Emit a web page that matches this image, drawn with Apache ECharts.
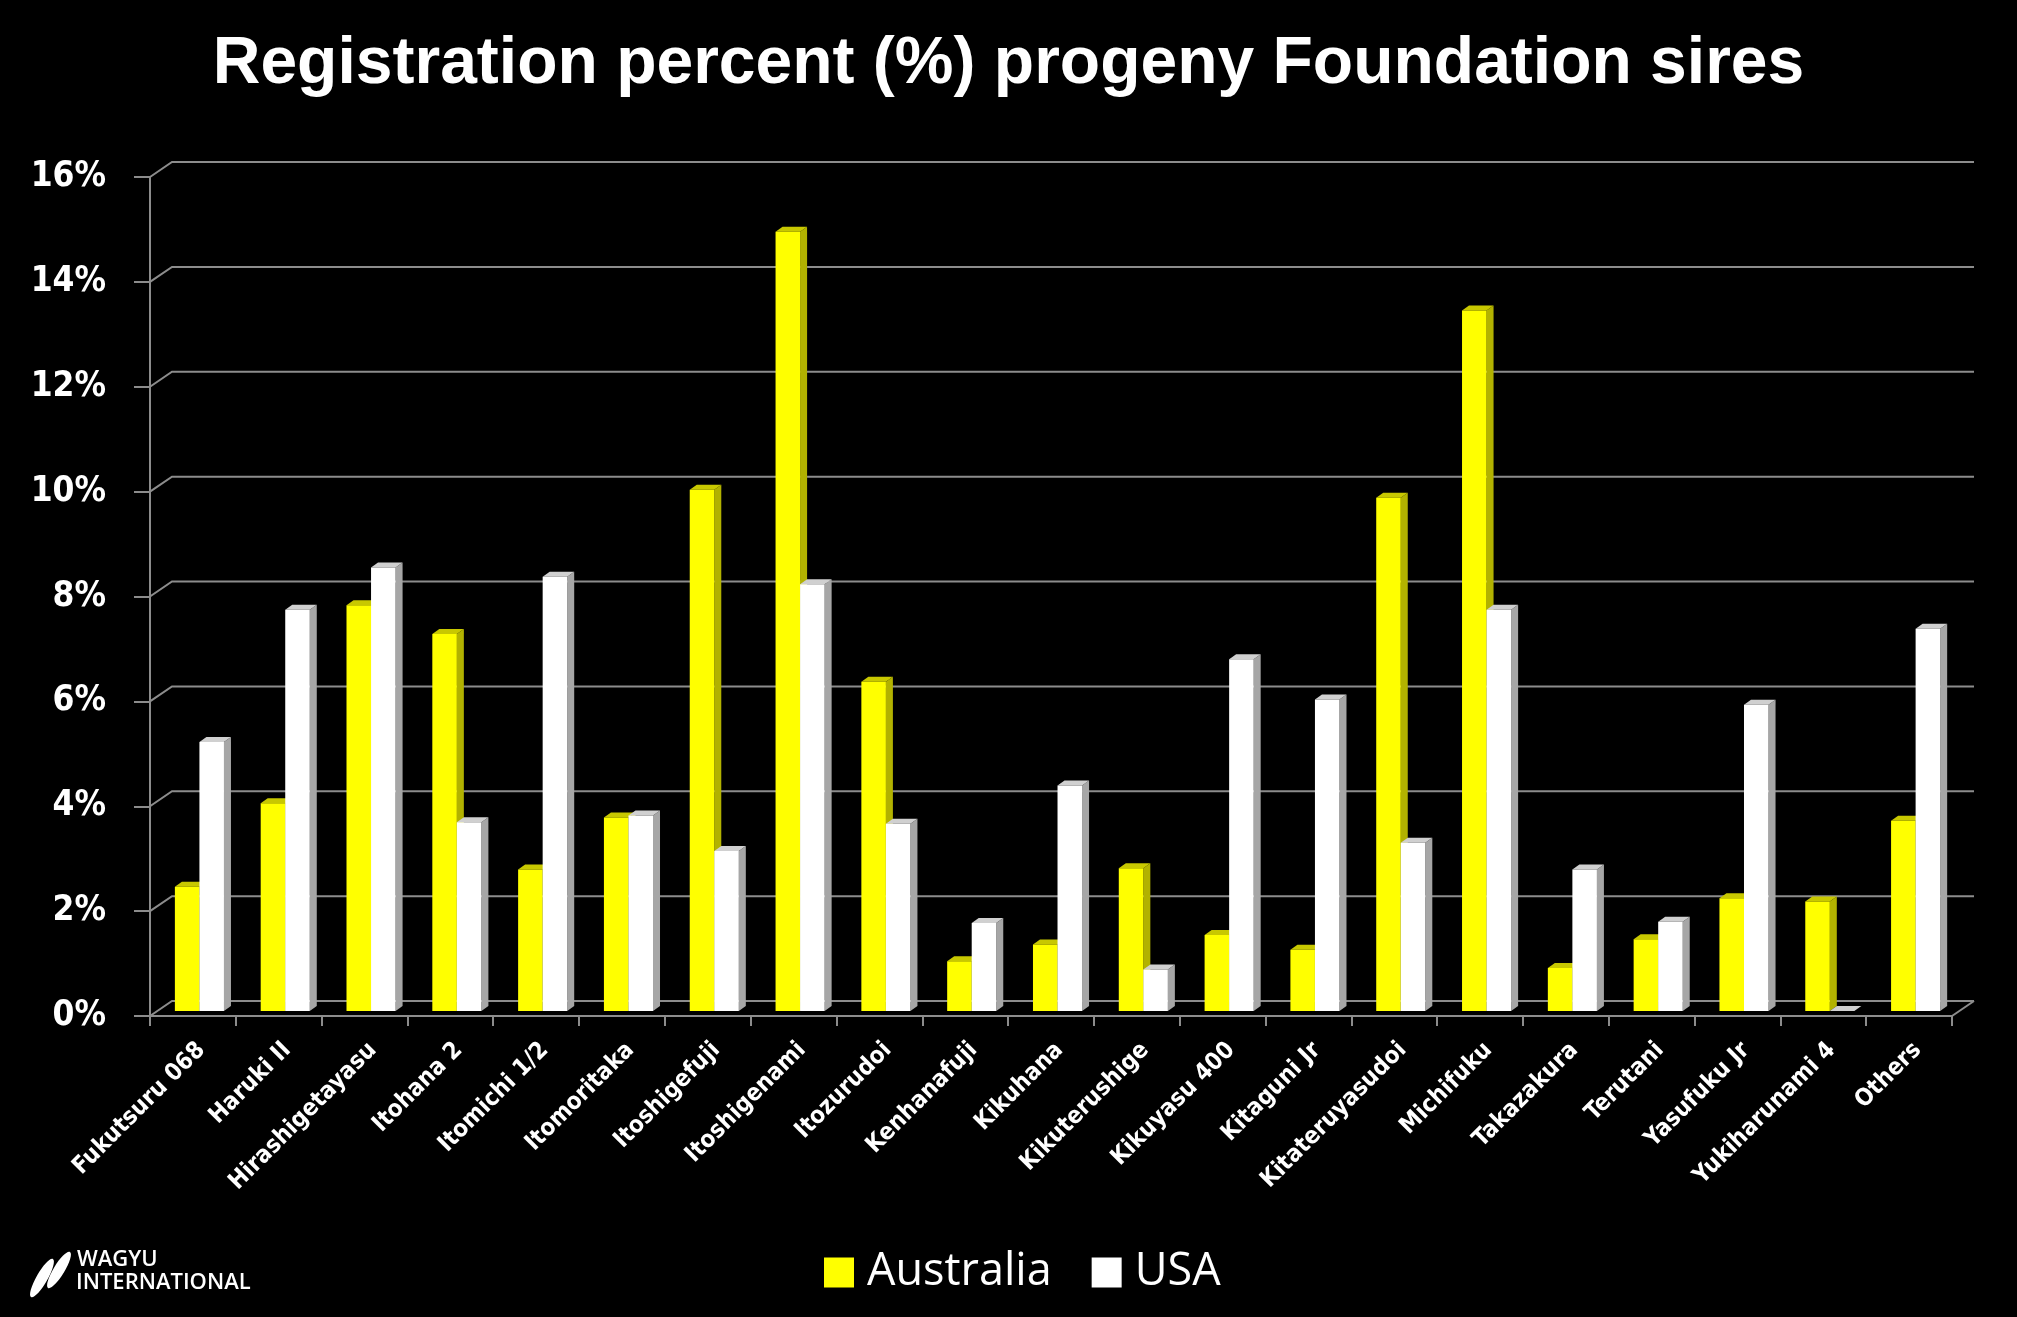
<!DOCTYPE html>
<html>
<head>
<meta charset="utf-8">
<script src="https://cdn.jsdelivr.net/npm/echarts@6/dist/echarts.min.js"></script>
<style>
html,body{margin:0;padding:0;background:#000;}
#chart{width:2017px;height:1317px;}
</style>
</head>
<body>
<div id="chart"></div>
<script>
const titleText = 'Registration percent (%) progeny Foundation sires';
const categories = ['Fukutsuru 068','Haruki II','Hirashigetayasu','Itohana 2','Itomichi 1/2','Itomoritaka','Itoshigefuji','Itoshigenami','Itozurudoi','Kenhanafuji','Kikuhana','Kikuterushige','Kikuyasu 400','Kitaguni Jr','Kitateruyasudoi','Michifuku','Takazakura','Terutani','Yasufuku Jr','Yukiharunami 4','Others'];
const australia = [2.37, 3.96, 7.74, 7.19, 2.70, 3.69, 9.94, 14.86, 6.28, 0.95, 1.27, 2.72, 1.45, 1.17, 9.79, 13.36, 0.82, 1.37, 2.15, 2.09, 3.63];
const usa = [5.13, 7.65, 8.46, 3.60, 8.28, 3.73, 3.05, 8.14, 3.57, 1.68, 4.30, 0.79, 6.71, 5.94, 3.21, 7.65, 2.70, 1.70, 5.84, 0, 7.29];
const yTicks = [0, 2, 4, 6, 8, 10, 12, 14, 16];
const seriesNames = ['Australia', 'USA'];

const WALL_DX = 22, WALL_DY = 15;
const BAR_DX = 7, BAR_DY = 5;
const GRID_COLOR = '#8c8c8c';

const faces = [
  {front: '#FFFF00', side: '#B2B200', top: '#C8C800'},
  {front: '#FFFFFF', side: '#A6A6A6', top: '#D0D0D0'}
];

function makeBarRenderer(idx) {
  return function (params, api) {
    const i = api.value(0), v = api.value(1);
    const base = api.coord([i, 0]);
    const top = api.coord([i, v]);
    const band = api.size([1, 0])[0];
    const w = band * 0.286;
    const shiftX = band * 0.076;
    const x0 = base[0] + shiftX + (idx === 0 ? -w : 0);
    const x1 = x0 + w;
    const yb = base[1] - 5;
    const yt = top[1] - 5;
    const f = faces[idx];
    return {
      type: 'group',
      children: [
        {type: 'polygon', shape: {points: [[x1, yb], [x1, yt], [x1 + BAR_DX, yt - BAR_DY], [x1 + BAR_DX, yb - BAR_DY]]}, style: {fill: f.side}},
        {type: 'polygon', shape: {points: [[x0, yt], [x1, yt], [x1 + BAR_DX, yt - BAR_DY], [x0 + BAR_DX, yt - BAR_DY]]}, style: {fill: f.top}},
        {type: 'rect', shape: {x: x0, y: yt, width: w, height: Math.max(yb - yt, 0)}, style: {fill: f.front}}
      ]
    };
  };
}

function renderWall(params, api) {
  const v = api.value(1);
  const p = api.coord([0, v]);
  const band = api.size([1, 0])[0];
  const xl = p[0] - band / 2;
  const xr = api.coord([categories.length - 1, v])[0] + band / 2;
  const y = p[1];
  const children = [
    {type: 'polyline', shape: {points: [[xl, y], [xl + WALL_DX, y - WALL_DY], [xr + WALL_DX, y - WALL_DY]]}, style: {stroke: GRID_COLOR, lineWidth: 2, fill: null}}
  ];
  if (v === 0) {
    children.push({type: 'line', shape: {x1: xr, y1: y, x2: xr + WALL_DX, y2: y - WALL_DY}, style: {stroke: GRID_COLOR, lineWidth: 2}});
  }
  return {type: 'group', children: children};
}

const chart = echarts.init(document.getElementById('chart'), null, {renderer: 'canvas'});
chart.setOption({
  backgroundColor: '#000000',
  animation: false,
  title: {
    text: titleText,
    left: 'center',
    top: 27,
    textStyle: {color: '#ffffff', fontFamily: '"Liberation Sans Narrow", sans-serif', fontWeight: 'bold', fontSize: 66}
  },
  legend: {
    data: seriesNames,
    left: 819,
    top: 1245,
    icon: 'rect',
    itemWidth: 30,
    itemHeight: 30,
    itemGap: 40,
    textStyle: {color: '#ffffff', fontFamily: '"Open Sans", sans-serif', fontSize: 45, lineHeight: 45, padding: [0, 0, 0, 8]}
  },
  grid: {left: 150, right: 65, top: 177, bottom: 301, containLabel: false},
  xAxis: {
    type: 'category',
    data: categories,
    boundaryGap: true,
    axisLine: {show: true, lineStyle: {color: GRID_COLOR, width: 2}},
    axisTick: {show: true, length: 10, interval: 0, lineStyle: {color: GRID_COLOR, width: 2}},
    axisLabel: {
      interval: 0, rotate: 45, margin: 22, color: '#ffffff',
      fontFamily: '"DejaVu Sans Condensed", "DejaVu Sans", sans-serif', fontWeight: 'bold', fontSize: 24,
      verticalAlign: 'top'
    },
    splitLine: {show: false}
  },
  yAxis: {
    type: 'value',
    min: 0, max: 16, interval: 2,
    axisLine: {show: true, lineStyle: {color: GRID_COLOR, width: 2}},
    axisTick: {show: true, length: 16, lineStyle: {color: GRID_COLOR, width: 2}},
    axisLabel: {
      margin: 44, color: '#ffffff', formatter: '{value}%',
      fontFamily: '"DejaVu Sans Condensed", "DejaVu Sans", sans-serif', fontWeight: 'bold', fontSize: 35
    },
    splitLine: {show: false}
  },
  series: [
    {
      name: 'wall', type: 'custom', renderItem: renderWall, silent: true, z: 1,
      data: yTicks.map(function (t) { return [0, t]; }),
      encode: {x: 0, y: 1}, clip: false
    },
    {
      name: seriesNames[0], type: 'custom', renderItem: makeBarRenderer(0), z: 3,
      itemStyle: {color: '#FFFF00'},
      data: australia.map(function (v, i) { return [i, v]; }),
      encode: {x: 0, y: 1}, clip: false
    },
    {
      name: seriesNames[1], type: 'custom', renderItem: makeBarRenderer(1), z: 4,
      itemStyle: {color: '#FFFFFF'},
      data: usa.map(function (v, i) { return [i, v]; }),
      encode: {x: 0, y: 1}, clip: false
    }
  ],
  graphic: [
    {type: 'ellipse', shape: {cx: 0, cy: 0, rx: 5.5, ry: 22}, x: 42, y: 1278, rotation: -0.52, style: {fill: '#ffffff'}},
    {type: 'ellipse', shape: {cx: 0, cy: 0, rx: 5.5, ry: 21}, x: 59, y: 1270, rotation: -0.55, style: {fill: '#ffffff'}},
    {type: 'text', x: 77, y: 1249, style: {text: 'WAGYU', fill: '#ffffff', font: '600 22px "Open Sans", sans-serif'}},
    {type: 'text', x: 76, y: 1272, style: {text: 'INTERNATIONAL', fill: '#ffffff', font: '600 22px "Open Sans", sans-serif'}}
  ]
});
</script>
</body>
</html>
